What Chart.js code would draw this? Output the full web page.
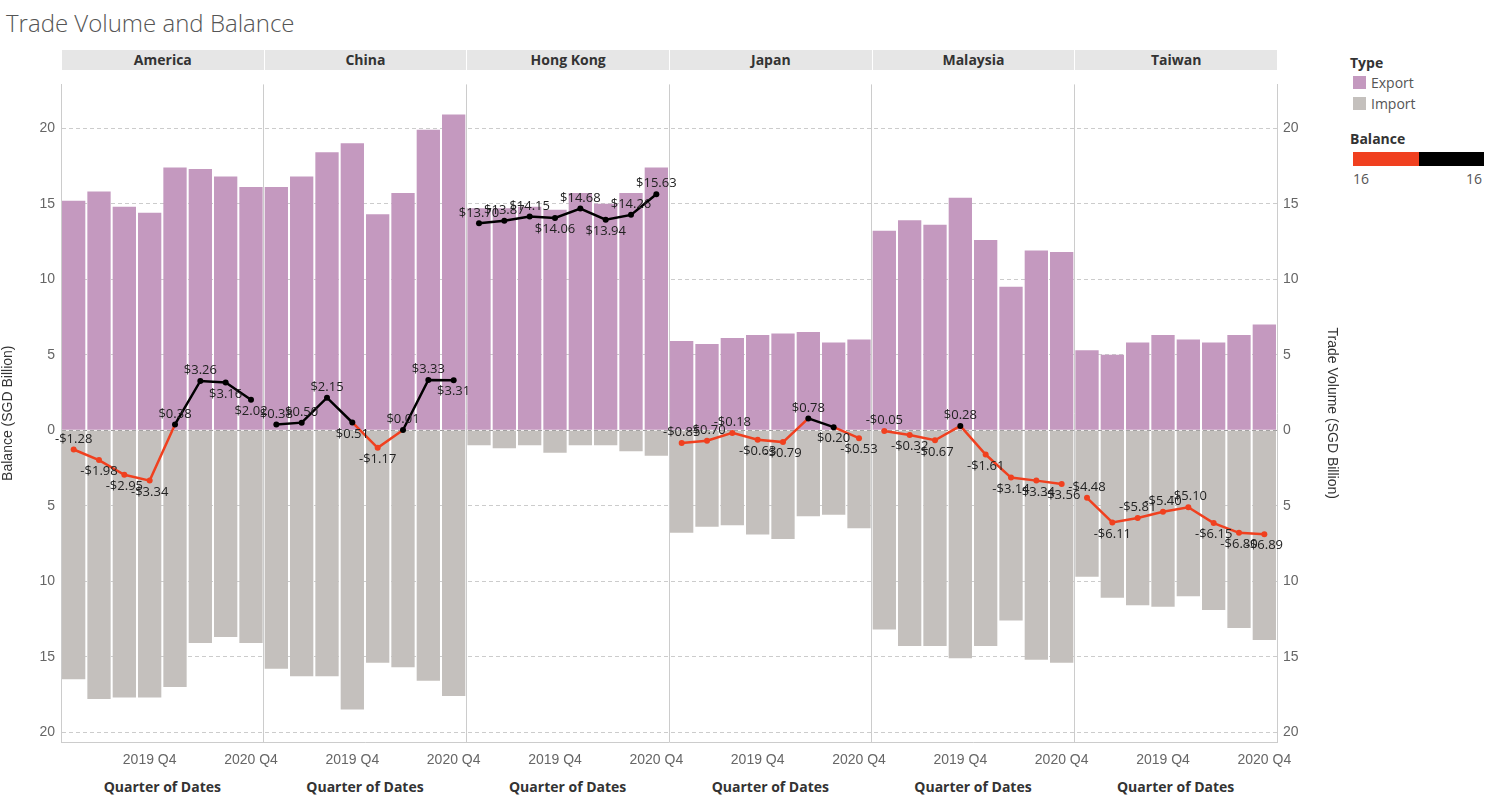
<!DOCTYPE html>
<html><head><meta charset="utf-8">
<script src="https://cdn.jsdelivr.net/npm/chart.js@4/dist/chart.umd.min.js"></script>
<style>
body{margin:0;width:1489px;height:799px;background:#fff;font-family:"Open Sans",sans-serif;position:relative;overflow:hidden}
#title{position:absolute;left:6px;top:6px;font-size:24px;color:#555;font-weight:300}
.hdr{position:absolute;top:50px;height:20px;background:#e6e6e6;font-size:14px;font-weight:bold;color:#333;text-align:center;line-height:20px;border-left:1px solid #fff;box-sizing:border-box}
.qd{position:absolute;top:777px;font-size:14px;font-weight:bold;color:#333;text-align:center}
#wrap{position:absolute;left:0;top:70px;width:1340px;height:700px}
.lg{position:absolute;font-size:14px;color:#555}
</style></head><body>
<div id="title">Trade Volume and Balance</div>
<div id="wrap"><canvas id="c"></canvas></div>
<div class="lg" style="left:1350px;top:53px;font-weight:bold;color:#333">Type</div>
<div style="position:absolute;left:1353px;top:76px;width:13px;height:13px;background:#c499bf"></div>
<div class="lg" style="left:1371px;top:73px">Export</div>
<div style="position:absolute;left:1353px;top:97px;width:13px;height:13px;background:#c4c0bd"></div>
<div class="lg" style="left:1371px;top:94px">Import</div>
<div class="lg" style="left:1350px;top:129px;font-weight:bold;color:#333">Balance</div>
<div style="position:absolute;left:1353px;top:152px;width:66px;height:14px;background:#f0401f"></div>
<div style="position:absolute;left:1419px;top:152px;width:65px;height:14px;background:#000"></div>
<div class="lg" style="left:1353px;top:169px">16</div>
<div class="lg" style="left:1466px;top:169px">16</div>
<script>
const regions=["America","China","Hong Kong","Japan","Malaysia","Taiwan"];
const quarters=["2019 Q1","2019 Q2","2019 Q3","2019 Q4","2020 Q1","2020 Q2","2020 Q3","2020 Q4"];
const exportAmerica=[15.2,15.8,14.8,14.4,17.4,17.3,16.8,16.1];
const exportChina=[16.1,16.8,18.4,19.0,14.3,15.7,19.9,20.9];
const exportHongKong=[14.7,14.7,14.8,14.6,15.7,15.0,15.7,17.4];
const exportJapan=[5.9,5.7,6.1,6.3,6.4,6.5,5.8,6.0];
const exportMalaysia=[13.2,13.9,13.6,15.4,12.6,9.5,11.9,11.8];
const exportTaiwan=[5.3,5.0,5.8,6.3,6.0,5.8,6.3,7.0];
const importAmerica=[16.5,17.8,17.7,17.7,17.0,14.1,13.7,14.1];
const importChina=[15.8,16.3,16.3,18.5,15.4,15.7,16.6,17.6];
const importHongKong=[1.0,1.2,1.0,1.5,1.0,1.0,1.4,1.7];
const importJapan=[6.8,6.4,6.3,6.9,7.2,5.7,5.6,6.5];
const importMalaysia=[13.2,14.3,14.3,15.1,14.3,12.6,15.2,15.4];
const importTaiwan=[9.7,11.1,11.6,11.7,11.0,11.9,13.1,13.9];
const balanceAmerica=[-1.28,-1.98,-2.95,-3.34,0.38,3.26,3.16,2.02];
const balanceChina=[0.38,0.50,2.15,0.51,-1.17,0.01,3.33,3.31];
const balanceHongKong=[13.70,13.87,14.15,14.06,14.68,13.94,14.26,15.63];
const balanceJapan=[-0.85,-0.70,-0.18,-0.63,-0.79,0.78,0.20,-0.53];
const balanceMalaysia=[-0.05,-0.32,-0.67,0.28,-1.61,-3.14,-3.34,-3.56];
const balanceTaiwan=[-4.48,-6.11,-5.81,-5.40,-5.10,-6.15,-6.80,-6.89];
const yTicks=[-20,-15,-10,-5,0,5,10,15,20];

const EX=[exportAmerica,exportChina,exportHongKong,exportJapan,exportMalaysia,exportTaiwan];
const IM=[importAmerica,importChina,importHongKong,importJapan,importMalaysia,importTaiwan];
const BA=[balanceAmerica,balanceChina,balanceHongKong,balanceJapan,balanceMalaysia,balanceTaiwan];
const labels=[];regions.forEach(r=>quarters.forEach(q=>labels.push(r+"|"+q)));
const RED='#f0401f';
const datasets=[
 {type:'bar',label:'Export',data:EX.flat(),backgroundColor:'#c499bf',stack:'s',order:2,categoryPercentage:1,barPercentage:0.92},
 {type:'bar',label:'Import',data:IM.flat().map(v=>-v),backgroundColor:'#c4c0bd',stack:'s',order:2,categoryPercentage:1,barPercentage:0.92}
];
BA.forEach((b,p)=>{
 const d=labels.map((_,i)=>Math.floor(i/8)===p?b[i%8]:null);
 datasets.push({type:'line',label:'Balance '+regions[p],data:d,order:1,spanGaps:false,borderWidth:2.5,
  pointRadius:3,pointBackgroundColor:c=>c.raw<0?RED:'#000',pointBorderWidth:0,
  segment:{borderColor:c=>(c.p0.parsed.y+c.p1.parsed.y)/2<0?RED:'#000'}});
});
const fmt=v=>(v<0?'-$':'$')+Math.abs(v).toFixed(2);
const lblPlugin={id:'lbl',afterDatasetsDraw(ch){
 const g=ch.ctx;g.save();g.font='13px "Open Sans"';g.textAlign='center';
 for(let p=0;p<6;p++){
  const meta=ch.getDatasetMeta(2+p);const b=BA[p];
  for(let k=0;k<8;k++){
   const pt=meta.data[p*8+k];const v=b[k];
   const above=k===0||v>=b[k-1];
   g.fillStyle='#222';
   g.textBaseline=above?'bottom':'top';
   g.fillText(fmt(v),pt.x,above?pt.y-4:pt.y+5);
  }
 }
 g.restore();}};
const ySc=(pos)=>({position:pos,min:-20.65,max:22.9,
  afterBuildTicks:s=>{s.ticks=yTicks.map(v=>({value:v}))},
  afterFit:s=>{s.width=pos==='left'?61:63},
  ticks:{color:'#666',font:{size:14},callback:v=>Math.abs(v),padding:6},
  border:{display:true,color:'#ccc'},
  grid:{display:pos==='left',drawTicks:false,color:c=>c.tick&&c.tick.value===0?'#bbb':'#ccc',
     lineWidth:1},
  title:{display:true,text:pos==='left'?'Balance (SGD Billion)':'Trade Volume (SGD Billion)',color:'#333',font:{size:14},padding:0}
});
const yl=ySc('left');yl.grid.borderDash=undefined;
yl.border.dash=[4,3];
new Chart(document.getElementById('c'),{data:{labels,datasets},plugins:[lblPlugin],
 options:{responsive:true,maintainAspectRatio:false,animation:false,
  layout:{padding:0},
  plugins:{legend:{display:false},tooltip:{enabled:false}},
  scales:{
   x:{stacked:true,offset:true,afterFit:s=>{s.height=28},
     grid:{offset:true,drawTicks:false,color:c=>c.index%8===0?'#ccc':'rgba(0,0,0,0)'},
     border:{color:'#ccc'},
     ticks:{autoSkip:false,maxRotation:0,color:'#666',font:{size:14},padding:10,
       callback:(v,i)=>(i%8===3||i%8===7)?quarters[i%8]:''}},
   y:Object.assign(yl,{stacked:true,grid:{drawTicks:false,color:'#ccc'}}),
   y2:ySc('right')
  }}});
// dashed grid via plugin override of line dash
Chart.defaults.scale.grid.tickBorderDash=[];
const ch=Chart.getChart('c');
ch.options.scales.y.border.dash=[4,3];
ch.options.scales.y.grid.color=c=>c.tick&&c.tick.value===0?'#999':'#ccc';
ch.options.scales.y.border.dashOffset=0;
ch.update();
// headers
setTimeout(()=>{},0);
const ca=ch.chartArea,w=(ca.right-ca.left)/6;
regions.forEach((r,i)=>{
 const h=document.createElement('div');h.className='hdr';h.textContent=r;
 h.style.left=(ca.left+i*w)+'px';h.style.width=w+'px';document.body.appendChild(h);
 const q=document.createElement('div');q.className='qd';q.textContent='Quarter of Dates';
 q.style.left=(ca.left+i*w)+'px';q.style.width=w+'px';document.body.appendChild(q);
});
</script></body></html>
